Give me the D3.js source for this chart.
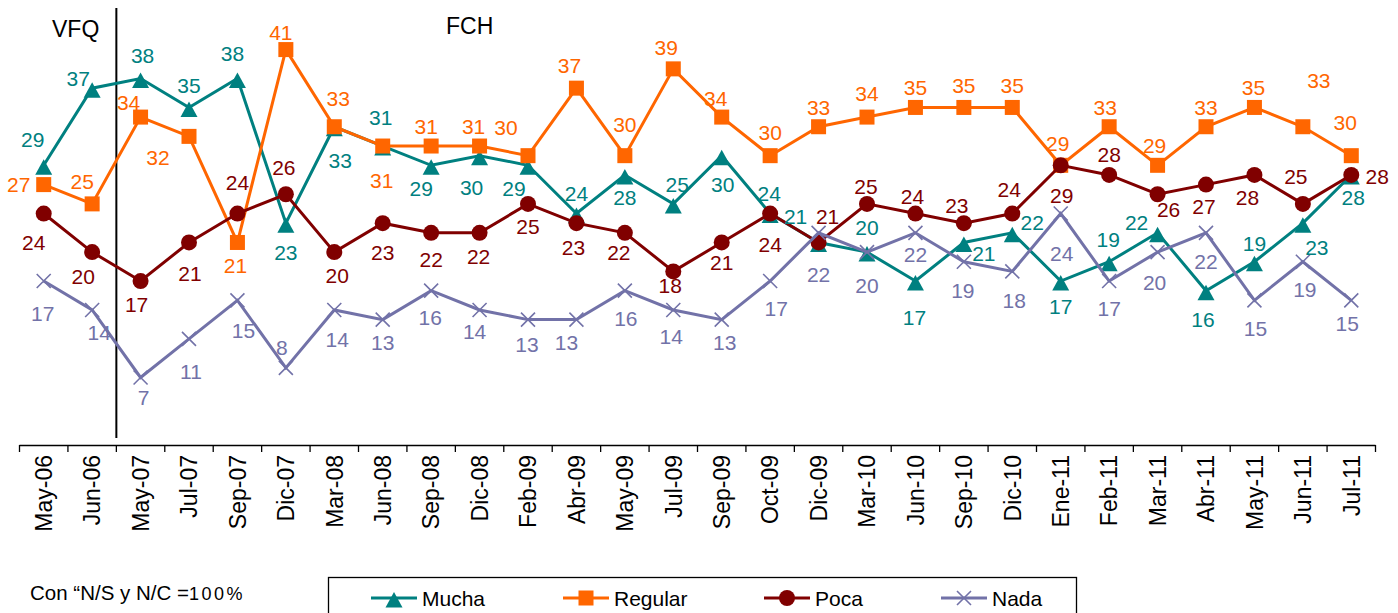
<!DOCTYPE html>
<html><head><meta charset="utf-8">
<script src="https://cdn.jsdelivr.net/npm/d3@7"></script>
<style>
html,body{margin:0;padding:0;background:#fff;}
svg{display:block;font-family:"Liberation Sans",Arial,sans-serif;}
</style></head><body>
<svg id="chart" width="1398" height="613"></svg>
<script>
const categories = ["May-06","Jun-06","May-07","Jul-07","Sep-07","Dic-07","Mar-08","Jun-08","Sep-08","Dic-08","Feb-09","Abr-09","May-09","Jul-09","Sep-09","Oct-09","Dic-09","Mar-10","Jun-10","Sep-10","Dic-10","Ene-11","Feb-11","Mar-11","Abr-11","May-11","Jun-11","Jul-11"];
const mucha   = [29,37,38,35,38,23,33,31,29,30,29,24,28,25,30,24,21,20,17,21,22,17,19,22,16,19,23,28];
const regular = [27,25,34,32,21,41,33,31,31,31,30,37,30,39,34,30,33,34,35,35,35,29,33,29,33,35,33,30];
const poca    = [24,20,17,21,24,26,20,23,22,22,25,23,22,18,21,24,21,25,24,23,24,29,28,26,27,28,25,28];
const nada    = [17,14,7,11,15,8,14,13,16,14,13,13,16,14,13,17,22,20,22,19,18,24,17,20,22,15,19,15];
const seriesNames = ["Mucha","Regular","Poca","Nada"];
const periodLabels = ["VFQ","FCH"];
const footnote = ["Con \u201cN/S y N/C =","100%"];

// label placement offsets (relative to each point)
const muchaLab = [[-11,-26],[-14,-10],[2,-23],[0,-22],[-5,-25],[0,29],[6,34],[-2,-29],[-10,23],[-8,32],[-14,23],[0,-20],[0,23],[4,-19],[1,29],[-1,-20],[-23,-26],[0,-25],[-1,36],[20,11],[20,-10],[0,25],[-1,-22],[-21,-10],[-3,29],[0,-18],[14,24],[2,23]];
const regularLab = [[-25,0],[-10,-22],[-12,-15],[-31,21],[-2,23],[-5,-17],[4,-28],[-1,34],[-5,-20],[-6,-20],[-22,-28],[-7,-23],[0,-31],[-7,-21],[-6,-19],[0,-23],[0,-19],[0,-24],[0,-20],[0,-22],[0,-22],[-3,-22],[-4,-19],[-3,-20],[0,-19],[-1,-20],[16,-46],[-6,-33]];
const pocaLab = [[-10,29],[-9,24],[-4,23],[1,31],[0,-31],[-2,-27],[3,23],[0,29],[0,27],[-1,24],[0,23],[-3,24],[-6,20],[-3,14],[0,20],[0,31],[9,-26],[-1,-17],[-3,-17],[-7,-18],[-3,-24],[1,30],[0,-20],[11,15],[-2,22],[-7,23],[-7,-27],[26,2]];
const nadaLab = [[-1,32],[7,23],[3,20],[2,33],[6,30],[-4,-20],[3,30],[0,23],[-1,27],[-5,22],[-1,25],[-10,23],[1,28],[-2,27],[3,23],[6,27],[0,42],[0,33],[0,22],[-1,29],[2,29],[1,40],[0,27],[-3,30],[0,29],[1,28],[2,28],[-4,23]];

const series = [
  {name:seriesNames[0], values:mucha,   color:"#008080", marker:"tri",    lab:muchaLab},
  {name:seriesNames[1], values:regular, color:"#FF6600", marker:"square", lab:regularLab},
  {name:seriesNames[2], values:poca,    color:"#800000", marker:"circle", lab:pocaLab},
  {name:seriesNames[3], values:nada,    color:"#7272A8", marker:"x",      lab:nadaLab}
];

const svg = d3.select("#chart");
const x = d3.scaleBand().domain(categories).range([19.5, 1375.5]).padding(0);
const cx = c => x(c) + x.bandwidth()/2;
const y = d3.scaleLinear().domain([0,45]).range([445, 11]);

// x axis
const xAxis = d3.axisBottom(x).tickSize(0).tickPadding(0);
const gx = svg.append("g").attr("transform","translate(0,445)").call(xAxis);
gx.select(".domain").attr("stroke","#000").attr("stroke-width",1.3).attr("d","M19.5,0.5H1375.5");
gx.selectAll(".tick text")
  .attr("transform","rotate(-90)")
  .attr("text-anchor","end")
  .attr("x",-10).attr("y",0).attr("dy","0.36em")
  .attr("font-size",23).attr("fill","#000")
  .attr("font-family","'Liberation Sans',Arial,sans-serif");
// boundary ticks
const bounds = categories.map(c => x(c)).concat([x(categories[categories.length-1]) + x.bandwidth()]);
gx.selectAll("line.bt").data(bounds).enter().append("line")
  .attr("x1",d=>d).attr("x2",d=>d).attr("y1",0).attr("y2",7)
  .attr("stroke","#000").attr("stroke-width",1.3);

// period separator
const sepX = x(categories[2]);
svg.append("line").attr("x1",sepX).attr("x2",sepX).attr("y1",8).attr("y2",438)
  .attr("stroke","#000").attr("stroke-width",2);
svg.append("text").attr("x",52).attr("y",37).attr("font-size",23).text(periodLabels[0]);
svg.append("text").attr("x",446).attr("y",34).attr("font-size",23).text(periodLabels[1]);

function drawMarker(g, type, color){
  if(type==="tri"){
    g.append("path").attr("d","M0,-6L8.5,9.5L-8.5,9.5Z").attr("fill",color);
  } else if(type==="square"){
    g.append("rect").attr("x",-7.5).attr("y",-7.5).attr("width",15).attr("height",15).attr("fill",color);
  } else if(type==="circle"){
    g.append("circle").attr("r",8).attr("fill",color);
  } else {
    g.append("path").attr("d","M-7,-7L7,7M-7,7L7,-7").attr("stroke",color).attr("stroke-width",1.6).attr("fill","none");
  }
}

const line = d3.line().x((d,i)=>cx(categories[i])).y(d=>y(d));
series.forEach(s=>{
  const g = svg.append("g");
  g.append("path").attr("d",line(s.values)).attr("fill","none")
    .attr("stroke",s.color).attr("stroke-width",3).attr("stroke-linejoin","miter");
  s.values.forEach((v,i)=>{
    const mg = g.append("g").attr("transform",`translate(${cx(categories[i])},${y(v)})`);
    drawMarker(mg, s.marker, s.color);
  });
});

// data labels
series.forEach(s=>{
  svg.append("g").selectAll("text").data(s.values).enter().append("text")
    .attr("x",(v,i)=>cx(categories[i]) + s.lab[i][0])
    .attr("y",(v,i)=>y(v) + s.lab[i][1] + 7.5)
    .attr("text-anchor","middle")
    .attr("font-size",21)
    .attr("fill",s.color)
    .text(v=>v);
});

// footnote
const fn = svg.append("text").attr("x",30).attr("y",600).attr("font-size",20.5).attr("fill","#000");
fn.append("tspan").text(footnote[0]);
fn.append("tspan").attr("font-size",18).attr("letter-spacing","2.5px").text(footnote[1]);

// legend
svg.append("rect").attr("x",328.5).attr("y",577.5).attr("width",748).attr("height",60)
  .attr("fill","none").attr("stroke","#000").attr("stroke-width",1.3);
const legX = [371, 563, 764, 941];
series.forEach((s,i)=>{
  const g = svg.append("g").attr("transform",`translate(${legX[i]},598)`);
  g.append("line").attr("x1",0).attr("x2",46).attr("y1",0).attr("y2",0).attr("stroke",s.color).attr("stroke-width",3);
  const mg = g.append("g").attr("transform","translate(23,0)");
  drawMarker(mg, s.marker, s.color);
  g.append("text").attr("x",51).attr("y",8).attr("font-size",21).attr("fill","#000").text(s.name);
});
</script>
</body></html>
